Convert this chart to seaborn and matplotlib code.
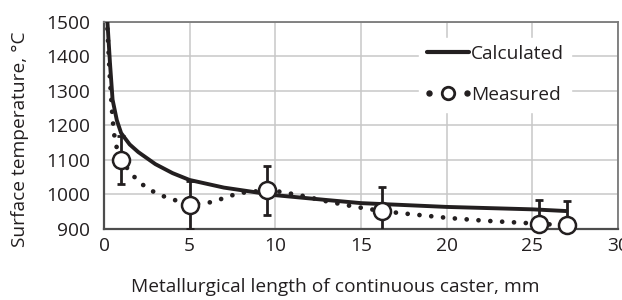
import pandas as pd
import matplotlib
matplotlib.use("Agg")
import matplotlib.pyplot as plt
import seaborn as sns
from matplotlib.lines import Line2D
from matplotlib.legend_handler import HandlerLine2D, HandlerTuple


# -------------------------------
# DATA
# -------------------------------
calc_x = [0.2, 0.35, 0.5, 0.75, 1.0, 1.5, 2.0, 3.0, 4.0, 5.0, 7.0, 10.0, 13.0, 15.0, 20.0, 25.0, 27.0]
calc_y = [1500, 1380, 1275, 1215, 1178, 1145, 1123, 1088, 1062, 1042, 1020, 998, 984, 975, 964, 957, 952]

trend_x = [0.2, 0.35, 0.5, 0.65, 1.0, 1.6, 2.1, 2.7, 3.3, 4.0, 5.0, 6.3, 7.5, 8.2, 9.5, 10.3,
           11.6, 13.1, 14.6, 16.2, 17.9, 20.1, 22.2, 24.4, 25.4, 27.0]
trend_y = [1480, 1330, 1220, 1150, 1100, 1060, 1034, 1013, 998, 986, 970, 978, 998, 1006, 1012, 1008,
           996, 979, 965, 952, 943, 932, 924, 918, 915, 911]

meas_x = [1.0, 5.0, 9.5, 16.2, 25.4, 27.0]
meas_y = [1100, 970, 1012, 952, 914, 911]
err_lo = [1030, 900, 942, 880, 850, 850]
err_hi = [1170, 1040, 1082, 1022, 984, 981]

x_ticks = [0, 5, 10, 15, 20, 25, 30]
y_ticks = [900, 1000, 1100, 1200, 1300, 1400, 1500]


def main():
    sns.set_style("white")
    plt.rcParams["font.family"] = ["Open Sans", "DejaVu Sans"]
    ink = "#231f20"
    fs = 13.8

    fig = plt.figure(figsize=(6.22, 3.0), dpi=100)
    ax = fig.add_axes([104 / 622, 71 / 300, 514 / 622, 207 / 300])

    calc = pd.DataFrame({"x": calc_x, "y": calc_y})
    trend = pd.DataFrame({"x": trend_x, "y": trend_y})
    meas = pd.DataFrame({"x": meas_x, "y": meas_y})

    # grid
    ax.set_axisbelow(True)
    ax.grid(True, color="#c8c8c8", lw=1.1)

    # dotted trend of measured values
    sns.lineplot(data=trend, x="x", y="y", ax=ax, sort=False, estimator=None,
                 color=ink, lw=3.4, linestyle=(0, (0.01, 2.5)),
                 dash_capstyle="round", zorder=2)

    # calculated curve
    sns.lineplot(data=calc, x="x", y="y", ax=ax, sort=False, estimator=None,
                 color=ink, lw=2.8, zorder=3)

    # error bars
    yerr = [[y - lo for y, lo in zip(meas_y, err_lo)],
            [hi - y for y, hi in zip(meas_y, err_hi)]]
    ax.errorbar(meas_x, meas_y, yerr=yerr, fmt="none", ecolor=ink,
                elinewidth=2.0, capsize=3, capthick=2.0, zorder=4)

    # measured points
    sns.scatterplot(data=meas, x="x", y="y", ax=ax, s=150, marker="o",
                    facecolor="white", edgecolor=ink, linewidth=1.8, zorder=5,
                    clip_on=False)

    ax.set_xlim(0, 30)
    ax.set_ylim(900, 1500)
    ax.set_xticks(x_ticks)
    ax.set_yticks(y_ticks)
    ax.tick_params(axis="both", length=0, labelsize=fs, colors=ink)
    ax.tick_params(axis="y", pad=10)
    ax.tick_params(axis="x", pad=6)
    ax.set_xlabel("")
    ax.set_ylabel("")

    for side in ["left", "bottom"]:
        ax.spines[side].set_color("#4d4d4d")
        ax.spines[side].set_linewidth(1.6)
    for side in ["top", "right"]:
        ax.spines[side].set_color("#7a7a7a")
        ax.spines[side].set_linewidth(1.3)

    # legend
    h_calc = Line2D([], [], color=ink, lw=3.0)
    h_dots = Line2D([], [], ls="none", marker="o", markersize=3.6, color=ink)
    h_circ = Line2D([], [], ls="none", marker="o", markersize=9,
                    markerfacecolor="white", markeredgecolor=ink, markeredgewidth=2.0)
    leg = ax.legend([h_calc, (h_dots, h_circ)], ["Calculated", "Measured"],
                    handler_map={h_dots: HandlerLine2D(numpoints=3, marker_pad=0.1),
                                 h_circ: HandlerLine2D(numpoints=1),
                                 tuple: HandlerTuple(ndivide=1)},
                    loc="upper left", bbox_to_anchor=(0.613, 0.925),
                    borderaxespad=0, frameon=True, framealpha=1, edgecolor="white",
                    fontsize=fs, handlelength=2.2, handletextpad=0.1,
                    labelspacing=1.2, borderpad=0.4)
    for t in leg.get_texts():
        t.set_color(ink)

    fig.text(20 / 622, 1 - 139 / 300, "Surface temperature, \u00b0C", rotation=90,
             ha="center", va="center", fontsize=fs, color=ink)
    fig.text(335 / 622, 1 - 287 / 300, "Metallurgical length of continuous caster, mm",
             ha="center", va="center", fontsize=fs, color=ink)

    fig.savefig("out.png", dpi=100)


if __name__ == "__main__":
    main()
